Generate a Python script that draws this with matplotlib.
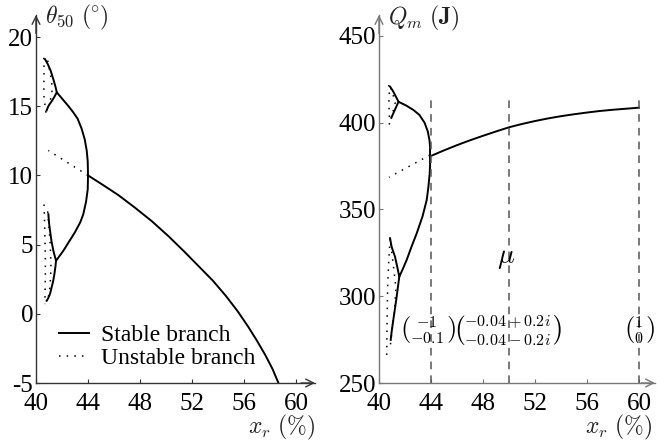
import numpy as np
import matplotlib
matplotlib.use("Agg")
import matplotlib.pyplot as plt

plt.rcParams["font.family"] = "Liberation Serif"
plt.rcParams["mathtext.fontset"] = "cm"

# ---- left panel: theta_50 (deg) vs x_r (%) ----
th_main_x = [44.0, 45.0, 46.3, 47.5, 48.9, 50.2, 51.4, 52.5, 53.6, 54.6, 55.5, 56.3, 57.0, 57.65, 58.2, 58.65]
th_main_y = [10.0, 9.4, 8.6, 7.75, 6.7, 5.6, 4.5, 3.45, 2.4, 1.3, 0.2, -0.9, -1.95, -3.0, -4.0, -5.0]

th_up_x = [44.0, 43.98, 43.9, 43.75, 43.5, 43.2, 42.87, 42.5, 42.05, 41.6, 41.5, 41.35, 41.13, 40.9, 40.69]
th_up_y = [10.0, 11.0, 11.8, 12.6, 13.4, 14.1, 14.55, 15.0, 15.5, 16.0, 16.4, 16.9, 17.56, 18.05, 18.4]
th_up_loop_x = [41.6, 41.4, 41.2, 41.05, 40.95, 40.82]
th_up_loop_y = [16.0, 15.65, 15.35, 15.15, 15.0, 14.7]

th_low_x = [44.0, 43.98, 43.85, 43.64, 43.4, 43.0, 42.6, 42.1, 41.54, 41.35, 41.2, 41.08, 41.0, 40.95]
th_low_y = [10.0, 9.0, 8.1, 7.2, 6.6, 5.9, 5.3, 4.55, 3.83, 4.5, 5.2, 6.0, 6.6, 7.2]
th_low_loop_x = [41.54, 41.5, 41.42, 41.33, 41.2, 41.08, 40.95, 40.82]
th_low_loop_y = [3.83, 3.45, 2.9, 2.4, 1.9, 1.44, 1.15, 0.94]

th_uns_x = [
    [44.0, 40.95],
    [40.6, 40.62, 40.6, 40.62, 40.7, 40.77],
    [40.9, 41.05, 41.2, 41.25, 41.15, 41.0],
    [40.62, 40.66, 40.7, 40.72, 40.72, 40.7, 40.68],
    [40.9, 41.0, 41.1, 41.15, 41.1, 41.0, 40.85],
]
th_uns_y = [
    [10.0, 11.8],
    [18.5, 17.6, 16.4, 15.6, 15.0, 14.5],
    [18.3, 17.6, 16.8, 16.2, 15.6, 15.1],
    [7.9, 6.5, 5.0, 3.8, 2.7, 1.6, 0.7],
    [7.4, 6.2, 5.0, 3.5, 2.2, 1.4, 0.9],
]

# ---- right panel: Q_m (J) vs x_r (%) ----
q_main_x = [44.0, 45.0, 46.0, 47.0, 48.0, 49.0, 50.0, 51.0, 52.0, 53.0, 54.0, 55.0, 56.0, 57.0, 58.0, 59.0, 60.0]
q_main_y = [380.8, 384.0, 387.0, 389.8, 392.4, 394.9, 397.3, 399.2, 400.9, 402.4, 403.7, 404.8, 405.8, 406.7, 407.4, 408.0, 408.6]

q_up_x = [43.92, 43.93, 43.88, 43.75, 43.5, 43.1, 42.64, 42.1, 41.5, 41.3, 41.05, 40.85]
q_up_y = [381.3, 386.0, 390.0, 395.0, 400.0, 404.5, 407.3, 409.8, 412.0, 415.0, 418.5, 420.7]
q_up_loop_x = [41.5, 41.35, 41.2, 41.05, 40.95]
q_up_loop_y = [412.0, 409.5, 407.0, 404.5, 402.8]

q_low_x = [43.92, 43.93, 43.9, 43.8, 43.67, 43.35, 42.9, 42.5, 42.13, 41.85, 41.56, 41.4, 41.23, 41.08, 40.97, 40.85]
q_low_y = [381.3, 376.0, 370.8, 363.0, 355.4, 346.0, 336.2, 328.5, 320.9, 316.0, 311.2, 317.0, 322.8, 326.0, 328.5, 333.4]
q_low_loop_x = [41.56, 41.45, 41.36, 41.22, 41.1, 40.98, 40.9]
q_low_loop_y = [311.2, 305.0, 299.7, 292.5, 286.3, 280.0, 274.8]

q_uns_x = [
    [43.92, 40.77],
    [40.75, 40.8, 40.75, 40.8, 40.8],
    [40.9, 41.1, 41.25, 41.1, 40.95],
    [40.85, 40.75, 40.67, 40.62, 40.59],
    [40.9, 41.1, 41.3, 41.2, 41.0, 40.85],
]
q_uns_y = [
    [381.3, 368.5],
    [421.7, 416.0, 411.0, 405.0, 398.6],
    [420.0, 415.5, 411.5, 407.0, 402.5],
    [333.0, 320.0, 307.0, 285.0, 264.0],
    [330.0, 318.0, 305.0, 292.0, 280.0, 270.0],
]

mark_x = [44, 50, 60]
mark_top = 413.4
mark_label_x = [43.8, 49.9, 60.0]
mark_labels = [r"$\binom{-1}{-0.1}$", r"$\binom{-0.04+0.2i}{-0.04-0.2i}$", r"$\binom{1}{0}$"]

xticks = [40, 44, 48, 52, 56, 60]

fig = plt.figure(figsize=(6.57, 4.41), dpi=100)
ax1 = fig.add_axes([36 / 657, 58 / 441, 279 / 657, 368 / 441])
ax2 = fig.add_axes([379 / 657, 58 / 441, 276 / 657, 368 / 441])

dotted = (0, (1, 4))
fs = 18


def style_axis(ax, axcolor):
    for s in ["top", "right"]:
        ax.spines[s].set_visible(False)
    for s in ["left", "bottom"]:
        ax.spines[s].set_color(axcolor)
        ax.spines[s].set_linewidth(1.0)
    ax.tick_params(direction="in", length=3, width=0.8, color=axcolor,
                   labelsize=fs, pad=2)
    ax.tick_params(axis="x", pad=7)
    ax.set_xticks(xticks)
    ax.set_xticklabels([str(t) for t in xticks])
    ax.annotate("", xy=(1, 0), xytext=(0.95, 0), xycoords="axes fraction",
                arrowprops=dict(arrowstyle="->", lw=1.0, color=axcolor,
                                shrinkA=0, shrinkB=0, mutation_scale=14))
    ax.annotate("", xy=(0, 1), xytext=(0, 0.95), xycoords="axes fraction",
                arrowprops=dict(arrowstyle="->", lw=1.0, color=axcolor,
                                shrinkA=0, shrinkB=0, mutation_scale=14))


# left
ax1.plot(th_main_x, th_main_y, color="black", lw=1.4, label="Stable branch")
for xs, ys in [(th_up_x, th_up_y), (th_up_loop_x, th_up_loop_y),
               (th_low_x, th_low_y), (th_low_loop_x, th_low_loop_y)]:
    ax1.plot(xs, ys, color="black", lw=1.4)
for i, (xs, ys) in enumerate(zip(th_uns_x, th_uns_y)):
    ax1.plot(xs, ys, color="black", lw=1.1, linestyle=dotted,
             label="Unstable branch" if i == 0 else None)
ax1.set_xlim(40, 40 + 279 / 13.0)
ax1.set_ylim(-5, -5 + 368 / 13.84)
ax1.set_yticks([-5, 0, 5, 10, 15, 20])
ax1.set_yticklabels(["-5", "0", "5", "10", "15", "20"])
style_axis(ax1, "#333333")
ax1.text(0.032, 0.992, r"$\theta_{50}\ (\!^\circ\!)$", transform=ax1.transAxes,
         ha="left", va="center", fontsize=17, color="#222222")
ax1.text(1.0, -0.122, r"$x_r\ (\%)$", transform=ax1.transAxes,
         ha="right", va="center", fontsize=17, color="#222222")
ax1.legend(loc="lower left", bbox_to_anchor=(0.03, 0.0), frameon=False,
           fontsize=17, handlelength=1.3, handletextpad=0.5,
           labelspacing=0.05, borderpad=0.1)

# right
ax2.plot(q_main_x, q_main_y, color="black", lw=1.4)
for xs, ys in [(q_up_x, q_up_y), (q_up_loop_x, q_up_loop_y),
               (q_low_x, q_low_y), (q_low_loop_x, q_low_loop_y)]:
    ax2.plot(xs, ys, color="black", lw=1.4)
for xs, ys in zip(q_uns_x, q_uns_y):
    ax2.plot(xs, ys, color="black", lw=1.1, linestyle=dotted)
for mx in mark_x:
    ax2.plot([mx, mx], [250, mark_top], color="#555555", lw=1.1,
             linestyle=(0, (5, 4)))
for lx, lab in zip(mark_label_x, mark_labels):
    ax2.text(lx, 280.5, lab, ha="center", va="center", fontsize=16.5)
ax2.text(49.8, 322, r"$\mu$", ha="center", va="center", fontsize=20)
ax2.set_xlim(40, 40 + 276 / 13.0)
ax2.set_ylim(250, 250 + 368 / 1.736)
ax2.set_yticks([250, 300, 350, 400, 450])
style_axis(ax2, "#777777")
ax2.text(0.033, 0.99, r"$Q_m\ \mathbf{(J)}$", transform=ax2.transAxes,
         ha="left", va="center", fontsize=17, color="#222222")
ax2.text(0.99, -0.122, r"$x_r\ (\%)$", transform=ax2.transAxes,
         ha="right", va="center", fontsize=17, color="#222222")

fig.savefig("out.png", dpi=100)
